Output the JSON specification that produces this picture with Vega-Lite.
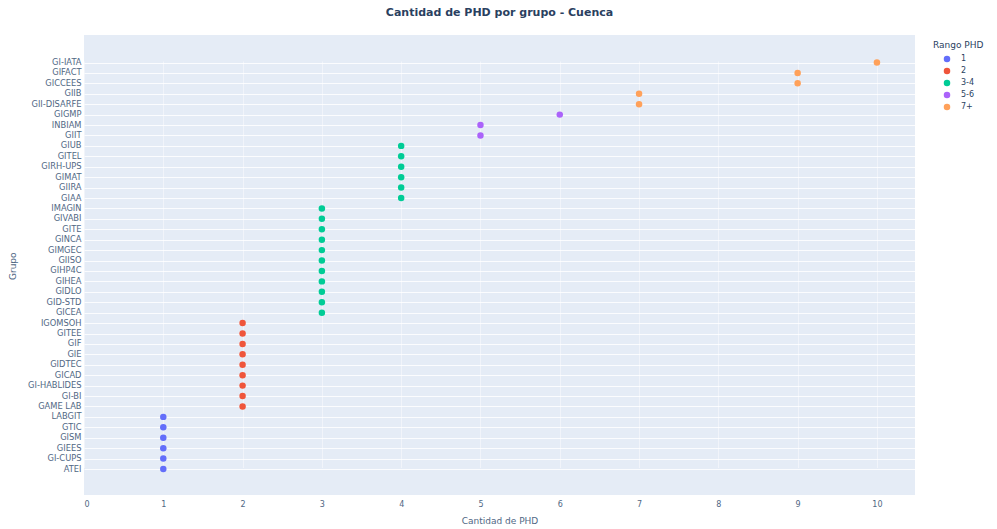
{
  "$schema": "https://vega.github.io/schema/vega-lite/v6.json",
  "width": 831,
  "height": 460,
  "autosize": {"type": "none"},
  "padding": {"left": 84, "top": 35, "right": 82, "bottom": 34},
  "background": "white",
  "title": {
    "text": "Cantidad de PHD por grupo - Cuenca",
    "font": "DejaVu Sans",
    "fontSize": 11,
    "fontWeight": "bold",
    "color": "#2a3f5f",
    "anchor": "middle",
    "offset": 17
  },
  "config": {
    "view": {"fill": "#E5ECF6", "stroke": null},
    "axis": {
      "labelFont": "DejaVu Sans",
      "titleFont": "DejaVu Sans",
      "labelColor": "#506784",
      "titleColor": "#506784",
      "labelFontSize": 8,
      "titleFontSize": 9,
      "titleFontWeight": "normal",
      "gridColor": "white",
      "gridWidth": 1,
      "domain": false,
      "ticks": false
    },
    "legend": {
      "labelFont": "DejaVu Sans",
      "titleFont": "DejaVu Sans",
      "labelColor": "#2a3f5f",
      "titleColor": "#2a3f5f",
      "labelFontSize": 8,
      "titleFontSize": 9,
      "titleFontWeight": "normal"
    }
  },
  "data": {
    "values": [
      {"Grupo": "GI-IATA", "PHD": 10, "Rango": "7+"},
      {"Grupo": "GIFACT", "PHD": 9, "Rango": "7+"},
      {"Grupo": "GICCEES", "PHD": 9, "Rango": "7+"},
      {"Grupo": "GIIB", "PHD": 7, "Rango": "7+"},
      {"Grupo": "GII-DISARFE", "PHD": 7, "Rango": "7+"},
      {"Grupo": "GIGMP", "PHD": 6, "Rango": "5-6"},
      {"Grupo": "INBIAM", "PHD": 5, "Rango": "5-6"},
      {"Grupo": "GIIT", "PHD": 5, "Rango": "5-6"},
      {"Grupo": "GIUB", "PHD": 4, "Rango": "3-4"},
      {"Grupo": "GITEL", "PHD": 4, "Rango": "3-4"},
      {"Grupo": "GIRH-UPS", "PHD": 4, "Rango": "3-4"},
      {"Grupo": "GIMAT", "PHD": 4, "Rango": "3-4"},
      {"Grupo": "GIIRA", "PHD": 4, "Rango": "3-4"},
      {"Grupo": "GIAA", "PHD": 4, "Rango": "3-4"},
      {"Grupo": "IMAGIN", "PHD": 3, "Rango": "3-4"},
      {"Grupo": "GIVABI", "PHD": 3, "Rango": "3-4"},
      {"Grupo": "GITE", "PHD": 3, "Rango": "3-4"},
      {"Grupo": "GINCA", "PHD": 3, "Rango": "3-4"},
      {"Grupo": "GIMGEC", "PHD": 3, "Rango": "3-4"},
      {"Grupo": "GIISO", "PHD": 3, "Rango": "3-4"},
      {"Grupo": "GIHP4C", "PHD": 3, "Rango": "3-4"},
      {"Grupo": "GIHEA", "PHD": 3, "Rango": "3-4"},
      {"Grupo": "GIDLO", "PHD": 3, "Rango": "3-4"},
      {"Grupo": "GID-STD", "PHD": 3, "Rango": "3-4"},
      {"Grupo": "GICEA", "PHD": 3, "Rango": "3-4"},
      {"Grupo": "IGOMSOH", "PHD": 2, "Rango": "2"},
      {"Grupo": "GITEE", "PHD": 2, "Rango": "2"},
      {"Grupo": "GIF", "PHD": 2, "Rango": "2"},
      {"Grupo": "GIE", "PHD": 2, "Rango": "2"},
      {"Grupo": "GIDTEC", "PHD": 2, "Rango": "2"},
      {"Grupo": "GICAD", "PHD": 2, "Rango": "2"},
      {"Grupo": "GI-HABLIDES", "PHD": 2, "Rango": "2"},
      {"Grupo": "GI-BI", "PHD": 2, "Rango": "2"},
      {"Grupo": "GAME LAB", "PHD": 2, "Rango": "2"},
      {"Grupo": "LABGIT", "PHD": 1, "Rango": "1"},
      {"Grupo": "GTIC", "PHD": 1, "Rango": "1"},
      {"Grupo": "GISM", "PHD": 1, "Rango": "1"},
      {"Grupo": "GIEES", "PHD": 1, "Rango": "1"},
      {"Grupo": "GI-CUPS", "PHD": 1, "Rango": "1"},
      {"Grupo": "ATEI", "PHD": 1, "Rango": "1"}
    ]
  },
  "mark": {"type": "circle", "size": 42, "opacity": 1},
  "encoding": {
    "x": {
      "field": "PHD",
      "type": "quantitative",
      "title": "Cantidad de PHD",
      "scale": {"domain": [0, 10.48], "nice": false, "zero": false},
      "axis": {"values": [0,1,2,3,4,5,6,7,8,9,10], "labelPadding": 5, "titlePadding": 8, "grid": true, "gridOpacity": 0.45}
    },
    "y": {
      "field": "Grupo",
      "type": "nominal",
      "sort": null,
      "title": "Grupo",
      "scale": {"type": "point", "padding": 0, "range": [27.5, 434]},
      "axis": {"labelPadding": 3, "titlePadding": 10, "grid": true, "gridOpacity": 0.85, "labelFontSize": 8.3}
    },
    "color": {
      "field": "Rango",
      "type": "nominal",
      "title": "Rango PHD",
      "scale": {
        "domain": ["1", "2", "3-4", "5-6", "7+"],
        "range": ["#636efa", "#EF553B", "#00cc96", "#ab63fa", "#FFA15A"]
      },
      "legend": {
        "orient": "none",
        "legendX": 849,
        "legendY": 6,
        "symbolSize": 42,
        "symbolType": "circle",
        "rowPadding": 4,
        "labelOffset": 10,
        "symbolOffset": 10
      }
    }
  }
}
